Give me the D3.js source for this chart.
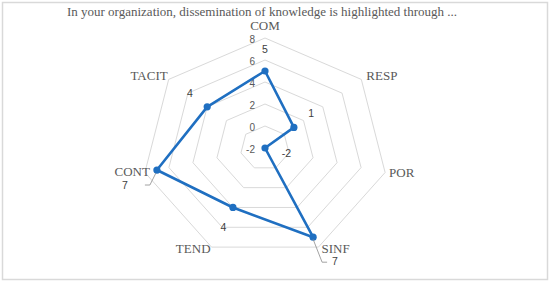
<!DOCTYPE html>
<html>
<head>
<meta charset="utf-8">
<script src="https://cdn.jsdelivr.net/npm/d3@7"></script>
<style>
  html, body { margin: 0; padding: 0; background: #fff; }
  svg { display: block; }
</style>
</head>
<body>
<div id="chart"></div>
<script>
// data
const categories = ["COM", "RESP", "POR", "SINF", "TEND", "CONT", "TACIT"];
const values = [5, 1, -2, 7, 4, 7, 4];
const ticks = [-2, 0, 2, 4, 6, 8];
const title = "In your organization, dissemination of knowledge is highlighted through ...";

const width = 550, height = 283;
const cx = 265, cy = 148;
const stretchX = 1.12; // the picture is a little wider than tall

const svg = d3.select("#chart").append("svg")
  .attr("width", width)
  .attr("height", height);

// frame
svg.append("rect")
  .attr("x", 2.5).attr("y", 2.5)
  .attr("width", width - 5).attr("height", height - 6)
  .attr("fill", "none")
  .attr("stroke", "#d9d9d9")
  .attr("stroke-width", 1.5);

// title
svg.append("text")
  .attr("x", 262).attr("y", 16)
  .attr("text-anchor", "middle")
  .style("font-family", "'Liberation Serif', serif")
  .style("font-size", "13px")
  .style("fill", "#595959")
  .text(title);

const r = d3.scaleLinear().domain([-2, 8]).range([0, 110]);
const angle = d3.scalePoint().domain(categories).range([0, 2 * Math.PI * (categories.length - 1) / categories.length]);

function px(cat, v) { return cx + Math.sin(angle(cat)) * r(v) * stretchX; }
function py(cat, v) { return cy - Math.cos(angle(cat)) * r(v); }

const g = svg.append("g");

// rings
const ringLine = d3.line().x(d => d[0]).y(d => d[1]).curve(d3.curveLinearClosed);
g.selectAll(".ring")
  .data(ticks.filter(t => t > -2))
  .enter().append("path")
  .attr("class", "ring")
  .attr("d", t => ringLine(categories.map(c => [px(c, t), py(c, t)])))
  .attr("fill", "none")
  .attr("stroke", "#d9d9d9")
  .attr("stroke-width", 1);

// tick labels along the COM axis
g.selectAll(".tick")
  .data(ticks)
  .enter().append("text")
  .attr("class", "tick")
  .attr("x", 255)
  .attr("y", t => cy - r(t) + 1)
  .attr("dy", "0.35em")
  .attr("text-anchor", "end")
  .style("font-family", "'Liberation Sans', sans-serif")
  .style("font-size", "10px")
  .style("fill", "#595959")
  .text(d => d);

// category labels
const catPos = {
  COM:   { dx: 0, dy: -12.5, anchor: "middle" },
  RESP:  { dx: 5, dy: -3.5, anchor: "start" },
  POR:   { dx: 4, dy: 0, anchor: "start" },
  SINF:  { dx: 3, dy: 1, anchor: "start" },
  TEND:  { dx: -1, dy: 1, anchor: "end" },
  CONT:  { dx: 5, dy: -1, anchor: "end" },
  TACIT: { dx: -1, dy: -3.5, anchor: "end" }
};
g.selectAll(".cat")
  .data(categories)
  .enter().append("text")
  .attr("class", "cat")
  .attr("x", c => px(c, 8) + catPos[c].dx)
  .attr("y", c => py(c, 8) + catPos[c].dy)
  .attr("dy", "0.35em")
  .attr("text-anchor", c => catPos[c].anchor)
  .style("font-family", "'Liberation Serif', serif")
  .style("font-size", "13px")
  .style("fill", "#595959")
  .text(c => c);

// series
const pts = categories.map((c, i) => ({ cat: c, v: values[i] }));
g.append("path")
  .attr("d", ringLine(pts.map(d => [px(d.cat, d.v), py(d.cat, d.v)])))
  .attr("fill", "none")
  .attr("stroke", "#1f6fc1")
  .attr("stroke-width", 2.6)
  .attr("stroke-linejoin", "round");

g.selectAll(".dot")
  .data(pts)
  .enter().append("circle")
  .attr("class", "dot")
  .attr("cx", d => px(d.cat, d.v))
  .attr("cy", d => py(d.cat, d.v))
  .attr("r", 3.6)
  .attr("fill", "#1f6fc1");

// data labels; SINF and CONT get leader lines
const leaders = {
  SINF: { lx: 335, ly: 261, path: [[0, 2], [9, 25], [14, 25]] },
  CONT: { lx: 125, ly: 185, path: [[-1, 3], [-7, 15], [-12, 15]] }
};
pts.forEach(d => {
  const x = px(d.cat, d.v), y = py(d.cat, d.v);
  let lx, ly;
  if (leaders[d.cat]) {
    const L = leaders[d.cat];
    lx = L.lx; ly = L.ly;
    g.append("path")
      .attr("d", d3.line()(L.path.map(p => [x + p[0], y + p[1]])))
      .attr("fill", "none")
      .attr("stroke", "#8c8c8c")
      .attr("stroke-width", 0.8);
  } else {
    lx = x + Math.sin(angle(d.cat)) * 22;
    ly = y - Math.cos(angle(d.cat)) * 22;
  }
  g.append("text")
    .attr("x", lx)
    .attr("y", ly)
    .attr("dy", "0.35em")
    .attr("text-anchor", "middle")
    .style("font-family", "'Liberation Sans', sans-serif")
    .style("font-size", "10.5px")
    .style("fill", "#404040")
    .text(d.v);
});
</script>
</body>
</html>
